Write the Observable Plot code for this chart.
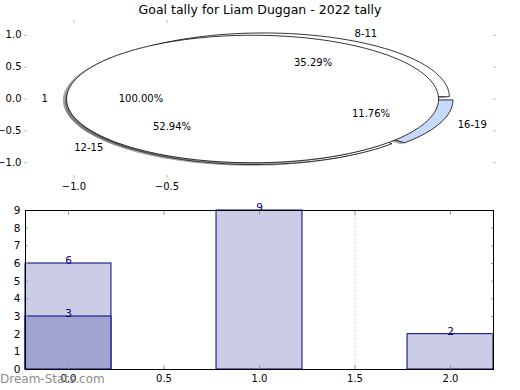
<!DOCTYPE html>
<html><head><meta charset="utf-8">
<script src="https://cdn.jsdelivr.net/npm/d3@7"></script>
<script src="https://cdn.jsdelivr.net/npm/@observablehq/plot@0.6"></script>
<style>
body{margin:0;background:#fff;font-family:"DejaVu Sans",sans-serif;}
#wrap{position:relative;width:520px;height:390px;overflow:hidden;background:#fff;}
#title{position:absolute;top:2px;left:0;width:520px;text-align:center;font-size:12.5px;color:#000;}
#top{position:absolute;left:0;top:0;}
#bottom{position:absolute;left:0;top:195px;}
#wm{position:absolute;left:0;top:372px;font-size:12px;color:#8c8c8c;}
svg{overflow:visible;}
</style></head><body>
<div id="wrap"><div id="top"></div><div id="bottom"></div><div id="title"></div><div id="wm">Dream-Stats.com</div></div>
<script>
const chartTitle = "Goal tally for Liam Duggan - 2022 tally";
const ageGroups = ["8-11", "12-15", "16-19"];
const ageGoals = [6, 9, 2];
const ageColors = ["#ffffff", "#ffffff", "#c6d9fa"];
const innerLabels = ["1"];
const innerValues = [17];
const innerColors = ["#ffffff"];
const barPositions = [0, 1, 2];
const barValues = [6, 9, 2];
const overlayPositions = [0];
const overlayValues = [3];
const pieXTicks = [-1.0, -0.5];
const pieYTicks = [-1.0, -0.5, 0.0, 0.5, 1.0];
const barXTicks = [0, 0.5, 1, 1.5, 2];
const barYTicks = [0, 1, 2, 3, 4, 5, 6, 7, 8, 9];
const dividerX = [1.5];

document.getElementById("title").textContent = chartTitle;

const EXPLODE = 0.04, SH = -0.02;
function pieSlices(labels, values, colors, prefix) {
  const total = d3.sum(values);
  let a0 = 0;
  return labels.map((lab, i) => {
    const frac = values[i] / total;
    const a1 = a0 + frac * 2 * Math.PI;
    const mid = (a0 + a1) / 2;
    const cx = EXPLODE * Math.cos(mid), cy = EXPLODE * Math.sin(mid);
    const n = Math.max(4, Math.ceil((a1 - a0) / (Math.PI / 120)));
    const full = frac > 0.9999;
    const pts = [];
    if (!full) pts.push([cx, cy]);
    for (let k = 0; k <= n; k++) {
      const t = a0 + (a1 - a0) * k / n;
      pts.push([cx + Math.cos(t), cy + Math.sin(t)]);
    }
    if (!full) pts.push([cx, cy]);
    a0 = a1;
    return {key: prefix + i, label: lab, pct: frac * 100, mid, cx, cy, pts, color: colors[i]};
  });
}
const outer = pieSlices(ageGroups, ageGoals, ageColors, "o");
const inner = pieSlices(innerLabels, innerValues, innerColors, "i");
const rows = (s, dx = 0, dy = 0) => s.pts.map(([x, y]) => ({x: x + dx, y: y + dy, key: s.key}));
const minus = d => d3.format(".1f")(d).replace("-", "\u2212");

function sliceMarks(slices) {
  const m = [];
  for (const s of slices) m.push(Plot.line(rows(s, SH, SH), {x: "x", y: "y", fill: "#4d4d4d", fillOpacity: 0.5, stroke: "none"}));
  for (const s of slices) m.push(Plot.line(rows(s), {x: "x", y: "y", fill: s.color, stroke: "#000", strokeWidth: 0.8}));
  return m;
}
function labelMarks(slices) {
  const right = slices.filter(s => Math.cos(s.mid) > 0), left = slices.filter(s => Math.cos(s.mid) <= 0);
  const lx = s => s.cx + 1.1 * Math.cos(s.mid), ly = s => s.cy + 1.1 * Math.sin(s.mid);
  return [
    Plot.text(right, {x: lx, y: ly, text: "label", textAnchor: "start", fontSize: 10, fill: "#000"}),
    Plot.text(left, {x: lx, y: ly, text: "label", textAnchor: "end", fontSize: 10, fill: "#000"}),
    Plot.text(slices, {x: s => s.cx + 0.6 * Math.cos(s.mid), y: s => s.cy + 0.6 * Math.sin(s.mid), text: s => s.pct.toFixed(2) + "%", fontSize: 10, fill: "#000"})
  ];
}

const topPlot = Plot.plot({
  width: 520, height: 200,
  marginLeft: 27, marginRight: 28, marginTop: 22, marginBottom: 25,
  style: {fontFamily: "DejaVu Sans", fontSize: "10px", background: "transparent"},
  x: {domain: [-1.25, 1.25]},
  y: {domain: [-1.2, 1.2]},
  marks: [
    ...sliceMarks(outer),
    ...sliceMarks(inner),
    ...labelMarks(outer),
    ...labelMarks(inner),
    Plot.axisY(pieYTicks, {anchor: "left", label: null, tickSize: 3, tickPadding: 3, stroke: "#bbb", tickFormat: minus, fontSize: 10, fill: "#000"}),
    Plot.axisY(pieYTicks, {anchor: "right", label: null, tickSize: 3, stroke: "#bbb", tickFormat: () => ""}),
    Plot.axisX(pieXTicks, {anchor: "bottom", label: null, tickSize: 3, tickPadding: 4, stroke: "#bbb", tickFormat: minus, fontSize: 10, fill: "#000"}),
    Plot.axisX(pieXTicks, {anchor: "top", label: null, tickSize: 3, stroke: "#bbb", tickFormat: () => ""})
  ]
});
document.getElementById("top").appendChild(topPlot);

const HALF = 0.225;
const bars = barPositions.map((x, i) => ({x, v: barValues[i]}));
const overlay = overlayPositions.map((x, i) => ({x, v: overlayValues[i]}));
const bottomPlot = Plot.plot({
  width: 520, height: 195,
  marginLeft: 25, marginRight: 27, marginTop: 15, marginBottom: 21,
  style: {fontFamily: "DejaVu Sans", fontSize: "10px", background: "transparent"},
  x: {domain: [-HALF, 2 + HALF]},
  y: {domain: [0, 9]},
  marks: [
    Plot.ruleX(dividerX, {stroke: "#c8c8c8", strokeDasharray: "1.5,2.5"}),
    Plot.rect(bars, {x1: d => d.x - HALF, x2: d => d.x + HALF, y1: 0, y2: "v", fill: "#cbcce5", stroke: "#000080", strokeWidth: 1}),
    Plot.rect(overlay, {x1: d => d.x - HALF, x2: d => d.x + HALF, y1: 0, y2: "v", fill: "#a1a3d1", stroke: "#000080", strokeWidth: 1}),
    Plot.text(bars, {x: "x", y: "v", text: d => String(d.v), dy: -3, fill: "#000080", fontSize: 10.5}),
    Plot.text(overlay, {x: "x", y: "v", text: d => String(d.v), dy: -3, fill: "#000080", fontSize: 10.5}),
    Plot.axisY(barYTicks, {anchor: "left", label: null, tickSize: -3, tickPadding: 8, stroke: "#999", fontSize: 10.5, fill: "#000"}),
    Plot.axisY(barYTicks, {anchor: "right", label: null, tickSize: -3, stroke: "#999", tickFormat: () => ""}),
    Plot.axisX(barXTicks, {anchor: "bottom", label: null, tickSize: -4, tickPadding: 9, stroke: "#999", tickFormat: ".1f", fontSize: 10, fill: "#000"}),
    Plot.axisX(barXTicks, {anchor: "top", label: null, tickSize: -4, stroke: "#999", tickFormat: () => ""}),
    Plot.frame({stroke: "#000", strokeWidth: 1})
  ]
});
document.getElementById("bottom").appendChild(bottomPlot);
</script>
</body></html>
